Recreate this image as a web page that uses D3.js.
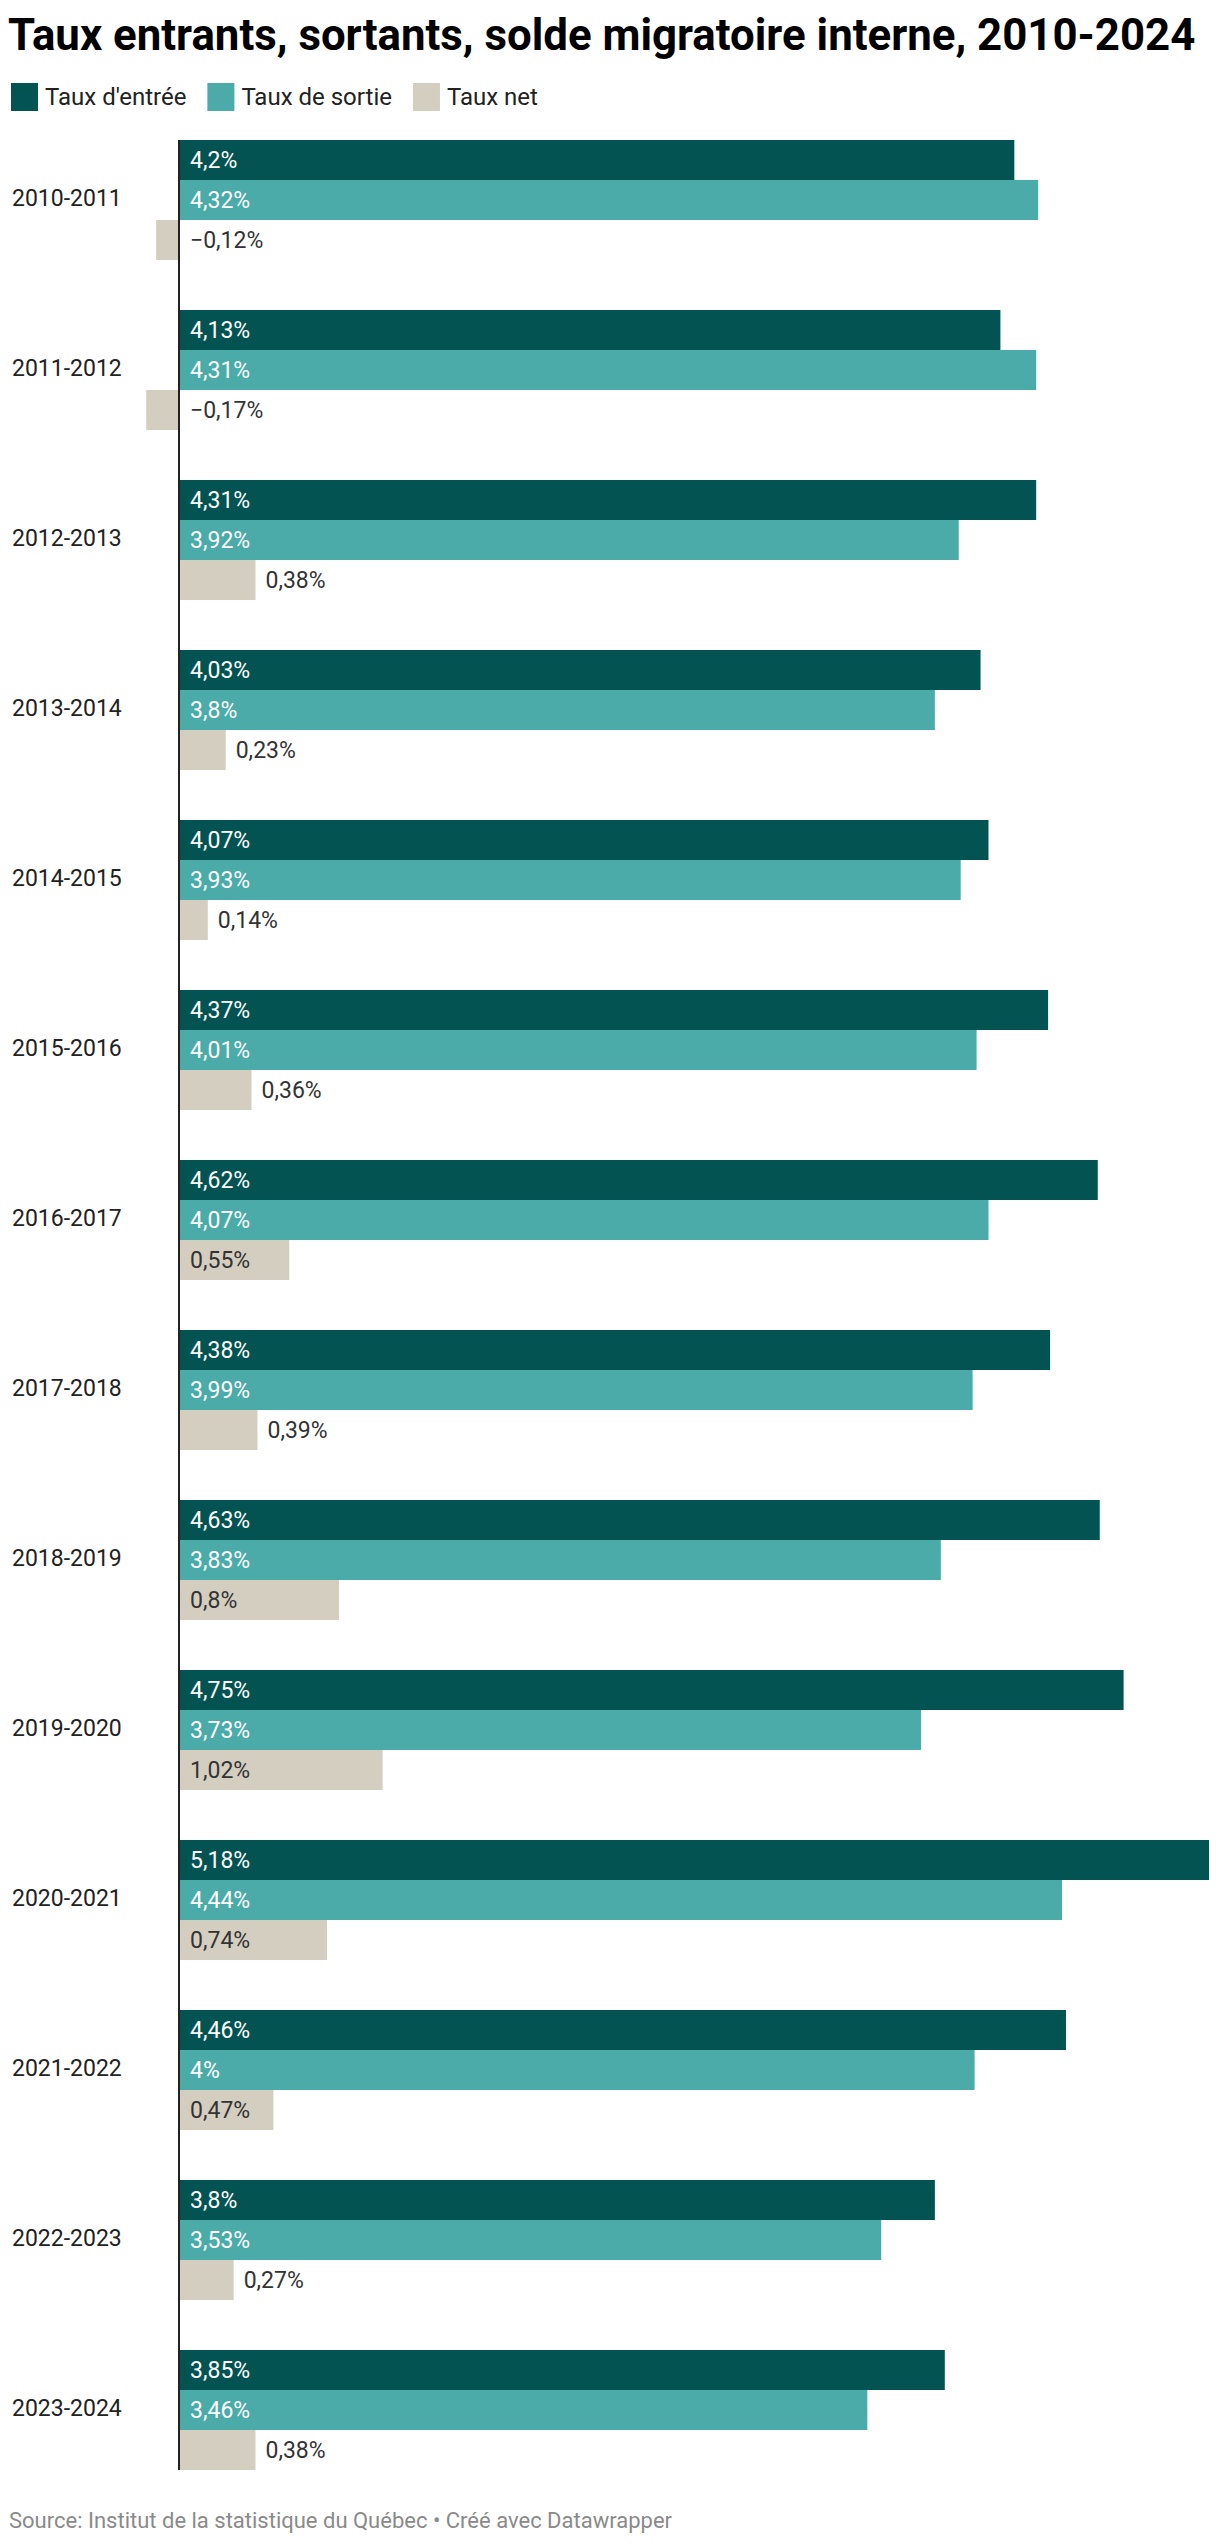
<!DOCTYPE html>
<html>
<head>
<meta charset="utf-8">
<script src="https://cdn.jsdelivr.net/npm/d3@7"></script>
<style>
  html, body { margin: 0; padding: 0; background: #fff; }
  svg { display: block; font-family: Roboto, "Noto Sans", sans-serif; }
</style>
</head>
<body>
<svg id="chart" width="1220" height="2546"></svg>
<script>
const categories = ["2010-2011","2011-2012","2012-2013","2013-2014","2014-2015","2015-2016","2016-2017","2017-2018","2018-2019","2019-2020","2020-2021","2021-2022","2022-2023","2023-2024"];
const seriesNames = ["Taux d'entrée", "Taux de sortie", "Taux net"];
const entree = [4.2, 4.13, 4.31, 4.03, 4.07, 4.37, 4.62, 4.38, 4.63, 4.75, 5.18, 4.46, 3.8, 3.85];
const sortie = [4.32, 4.31, 3.92, 3.8, 3.93, 4.01, 4.07, 3.99, 3.83, 3.73, 4.44, 4, 3.53, 3.46];
const net = [-0.12, -0.17, 0.38, 0.23, 0.14, 0.36, 0.55, 0.39, 0.8, 1.02, 0.74, 0.47, 0.27, 0.38];
const colors = ["#035352", "#4aaba8", "#d4cec1"];
const labelColors = ["#ffffff", "#ffffff", "#333333"];
const titleText = "Taux entrants, sortants, solde migratoire interne, 2010-2024";
const sourceText = "Source: Institut de la statistique du Québec • Créé avec Datawrapper";

const seriesValues = [entree, sortie, net];
const svg = d3.select("#chart");

const locale = d3.formatLocale({decimal: ",", thousands: " ", grouping: [3], currency: ["", " $"], minus: "\u2212"});
const fmt = v => locale.format("~g")(v) + "%";

// Title
svg.append("text")
  .attr("x", 8).attr("y", 50)
  .attr("font-size", 43.8).attr("font-weight", 700)
  .attr("fill", "#000")
  .text(titleText);

// Legend
let lx = 11;
seriesNames.forEach((name, i) => {
  svg.append("rect").attr("x", lx).attr("y", 83).attr("width", 27).attr("height", 28).attr("fill", colors[i]);
  const t = svg.append("text").attr("x", lx + 34).attr("y", 105)
    .attr("font-size", 24).attr("fill", "#222").text(name);
  lx += 34 + t.node().getComputedTextLength() + 21;
});

// Scales
const y = d3.scaleBand().domain(categories).range([140, 140 + 170 * categories.length])
  .paddingInner(50 / 170).paddingOuter(25 / 170).align(0);
const ySub = d3.scaleBand().domain(seriesNames).range([0, y.bandwidth()]);
const x = d3.scaleLinear().domain([0, d3.max(entree.concat(sortie))]).range([180, 1209]);

// Category labels
svg.append("g").selectAll("text").data(categories).join("text")
  .attr("x", 12)
  .attr("y", d => y(d) + y.bandwidth() / 2 - 2)
  .attr("dominant-baseline", "central")
  .attr("font-size", 23).attr("fill", "#222")
  .text(d => d);

// Bars
const groups = svg.append("g").selectAll("g").data(categories).join("g")
  .attr("transform", d => `translate(0,${y(d)})`);

groups.each(function(cat, ci) {
  const g = d3.select(this);
  seriesNames.forEach((s, si) => {
    const v = seriesValues[si][ci];
    const x0 = x(Math.min(0, v)), x1 = x(Math.max(0, v));
    g.append("rect")
      .attr("x", x0).attr("y", ySub(s))
      .attr("width", x1 - x0).attr("height", ySub.bandwidth())
      .attr("fill", colors[si]);
    const lbl = g.append("text")
      .attr("y", ySub(s) + ySub.bandwidth() / 2)
      .attr("dominant-baseline", "central")
      .attr("font-size", 23)
      .text(fmt(v));
    const w = lbl.node().getComputedTextLength();
    if (v < 0) {
      lbl.attr("x", x(0) + 10).attr("fill", "#333");
    } else if (x1 - x0 >= w + 20) {
      lbl.attr("x", x(0) + 10).attr("fill", labelColors[si]);
    } else {
      lbl.attr("x", x1 + 10).attr("fill", "#333");
    }
  });
});

// Axis line at zero
svg.append("line")
  .attr("x1", x(0) - 1).attr("x2", x(0) - 1)
  .attr("y1", y(categories[0]))
  .attr("y2", y(categories[categories.length - 1]) + y.bandwidth())
  .attr("stroke", "#222").attr("stroke-width", 2);

// Source
svg.append("text")
  .attr("x", 9).attr("y", 2528)
  .attr("font-size", 22).attr("fill", "#8a8a8a")
  .text(sourceText);
</script>
</body>
</html>
